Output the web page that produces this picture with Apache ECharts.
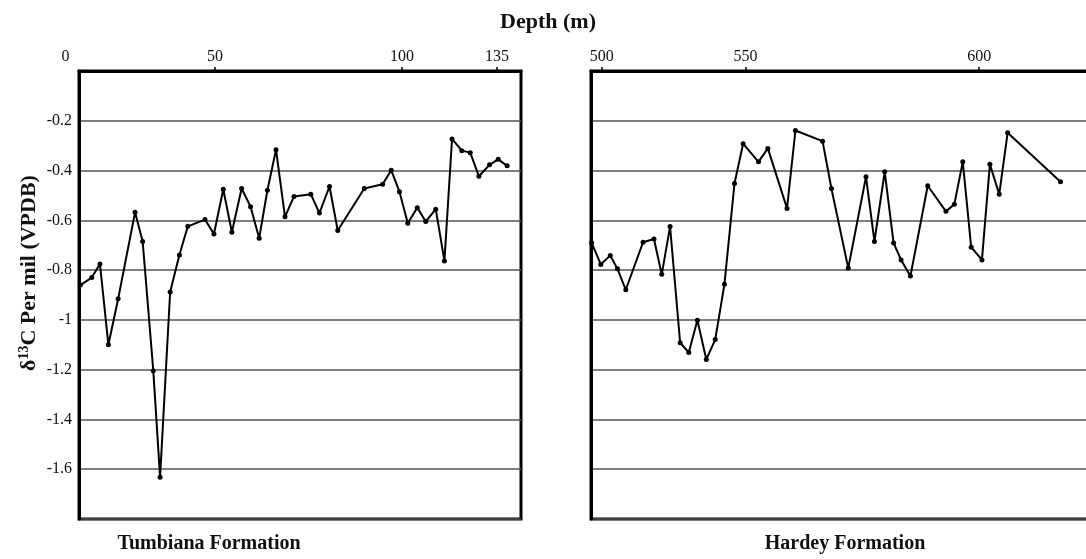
<!DOCTYPE html>
<html>
<head>
<meta charset="utf-8">
<script src="https://cdn.jsdelivr.net/npm/echarts@6/dist/echarts.min.js"></script>
<style>
html, body { margin: 0; padding: 0; background: #fff; }
#chart { width: 1086px; height: 559px; }
</style>
</head>
<body>
<div id="chart"></div>
<script>
// Tumbiana Formation: depth (m) and d13C (per mil VPDB)
const tumbianaDepth = [0.5, 4.7, 7.7, 10.8, 14.4, 20.6, 23.4, 27.3, 29.8, 33.5, 36.9, 40.0, 46.3, 49.6,
    52.2, 54.5, 57.1, 59.5, 61.8, 64.0, 66.3, 68.7, 71.1, 75.6, 77.9, 80.6, 82.8, 89.9, 94.8, 97.1,
    99.3, 102.1, 105.6, 108.7, 112.4, 115.6, 118.4, 122.0, 125.1, 128.3, 132.2, 135.4, 138.7];
const tumbianaD13C = [-0.86, -0.83, -0.775, -1.10, -0.915, -0.568, -0.685, -1.204, -1.632, -0.888, -0.739, -0.624, -0.597, -0.655,
    -0.475, -0.648, -0.472, -0.545, -0.672, -0.479, -0.316, -0.586, -0.504, -0.495, -0.571, -0.464, -0.641, -0.472, -0.455, -0.399,
    -0.485, -0.612, -0.549, -0.605, -0.555, -0.763, -0.273, -0.320, -0.328, -0.423, -0.377, -0.355, -0.381];

// Hardey Formation
const hardeyDepth = [496.5, 499.7, 503.0, 505.5, 508.4, 514.4, 518.2, 520.9, 523.8, 527.3, 530.3, 533.3, 536.4, 539.5,
    542.7, 546.2, 549.2, 552.8, 554.8, 558.9, 560.7, 566.5, 568.4, 572.0, 575.8, 577.6, 579.8, 581.7, 583.3, 585.3,
    589.0, 592.9, 594.7, 596.5, 598.3, 600.6, 602.3, 604.3, 606.1, 617.4];
const hardeyD13C = [-0.69, -0.777, -0.741, -0.795, -0.879, -0.688, -0.675, -0.817, -0.625, -1.092, -1.131, -1.001, -1.159, -1.079,
    -0.857, -0.452, -0.292, -0.365, -0.311, -0.552, -0.239, -0.282, -0.472, -0.792, -0.425, -0.685, -0.405, -0.691, -0.759, -0.824,
    -0.461, -0.564, -0.535, -0.365, -0.708, -0.759, -0.375, -0.495, -0.248, -0.445];

// depth tick labels of the two sections
const tumbianaTicks = [0, 50, 100, 135];
const hardeyTicks = [500, 550, 600];

// the original depth scale is drawn unevenly: where each labelled depth sits along the axis
const tumbianaStretch = [0, 136, 323, 418];
const hardeyStretch = [0, 143.7, 377.3];
const tumbianaRange = [0, 143.8];
const hardeyRange = [496.3, 625];

const serif = "'Liberation Serif', 'Times New Roman', serif";

function stretch(d, ticks, at) {
    let i = 0;
    while (i < ticks.length - 2 && d > ticks[i + 1]) i++;
    return at[i] + (d - ticks[i]) * (at[i + 1] - at[i]) / (ticks[i + 1] - ticks[i]);
}

function tickLabel(v, ticks, at) {
    for (let i = 0; i < ticks.length; i++) {
        if (Math.abs(at[i] - v) < 0.01) return ticks[i] === 0 ? '{z|0}' : String(ticks[i]);
    }
    return '';
}

function depthAxis(gridIndex, ticks, at, range, skipFirstTick) {
    return {
        type: 'value',
        gridIndex: gridIndex,
        position: 'top',
        min: stretch(range[0], ticks, at),
        max: stretch(range[1], ticks, at),
        axisLine: { show: true, onZero: false, lineStyle: { color: '#000', width: 3 } },
        axisTick: {
            show: true, length: 4, lineStyle: { color: '#000', width: 1.5 },
            customValues: skipFirstTick ? at.slice(1) : at
        },
        axisLabel: {
            customValues: at,
            color: '#111', fontFamily: serif, fontSize: 16, margin: 6,
            formatter: v => tickLabel(v, ticks, at),
            rich: { z: { fontFamily: serif, fontSize: 16, color: '#111', padding: [0, 27, 0, 0] } }
        },
        splitLine: { show: false }
    };
}

function valueAxis(gridIndex, showLabels) {
    return {
        type: 'value',
        gridIndex: gridIndex,
        min: -1.8,
        max: 0,
        interval: 0.2,
        axisLine: { show: true, onZero: false, lineStyle: { color: '#000', width: 3 } },
        axisTick: { show: false },
        axisLabel: {
            show: showLabels,
            color: '#111', fontFamily: serif, fontSize: 16, margin: 7,
            formatter: v => (v === 0 || v < -1.79) ? '' : String(Math.round(v * 10) / 10)
        },
        splitLine: { show: true, lineStyle: { color: '#555', width: 1.5 } },
        name: showLabels ? '{b|δ}{s|13}{b|C Per mil (VPDB)}' : '',
        nameLocation: 'middle',
        nameRotate: 90,
        nameGap: 38,
        nameTextStyle: {
            padding: [0, 0, 0, 44],
            rich: {
                b: { fontFamily: serif, fontSize: 22, fontWeight: 'bold', color: '#111', lineHeight: 24 },
                s: { fontFamily: serif, fontSize: 14, fontWeight: 'bold', color: '#111', lineHeight: 24, verticalAlign: 'top' }
            }
        }
    };
}

const lineSeries = (idx, depth, vals, ticks, at) => ({
    type: 'line',
    xAxisIndex: idx,
    yAxisIndex: idx,
    data: depth.map((d, i) => [stretch(d, ticks, at), vals[i]]),
    symbol: 'circle',
    symbolSize: 5,
    lineStyle: { color: '#000', width: 2 },
    itemStyle: { color: '#000' }
});

const chart = echarts.init(document.getElementById('chart'));

chart.setOption({
    animation: false,
    backgroundColor: '#fff',
    title: [
        { text: 'Depth (m)', left: 543, top: 6, textAlign: 'center',
          textStyle: { fontFamily: serif, fontSize: 22, fontWeight: 'bold', color: '#111' } },
        { text: 'Tumbiana Formation', left: 204, top: 529, textAlign: 'center',
          textStyle: { fontFamily: serif, fontSize: 20, fontWeight: 'bold', color: '#111' } },
        { text: 'Hardey Formation', left: 840, top: 529, textAlign: 'center',
          textStyle: { fontFamily: serif, fontSize: 20, fontWeight: 'bold', color: '#111' } }
    ],
    grid: [
        { left: 79, top: 71, width: 442, height: 448, show: true, borderColor: '#000', borderWidth: 3,
          outerBoundsMode: 'none' },
        { left: 591, top: 71, width: 505, height: 448, show: true, borderColor: '#000', borderWidth: 3,
          outerBoundsMode: 'none' }
    ],
    xAxis: [
        depthAxis(0, tumbianaTicks, tumbianaStretch, tumbianaRange, true),
        depthAxis(1, hardeyTicks, hardeyStretch, hardeyRange, false)
    ],
    yAxis: [valueAxis(0, true), valueAxis(1, false)],
    series: [
        lineSeries(0, tumbianaDepth, tumbianaD13C, tumbianaTicks, tumbianaStretch),
        lineSeries(1, hardeyDepth, hardeyD13C, hardeyTicks, hardeyStretch)
    ]
});
</script>
</body>
</html>
